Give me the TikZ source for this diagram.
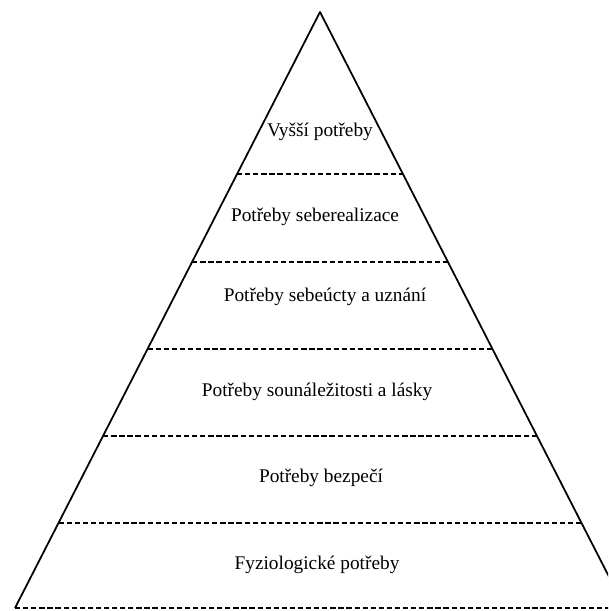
\documentclass[tikz,border=0pt]{standalone}
\usepackage{fontspec}
\setmainfont{Liberation Serif}
\usepackage{tikz}
\usetikzlibrary{calc, positioning}
\newcommand{\level}[1]
{
	\draw[levelline] ($ (apex)!#1!(baseL) $) -- ($ (apex)!#1!(baseR) $)
}
\begin{document}
\begin{tikzpicture}[
	side/.style={line width=1pt, line join=round},
	levelline/.style={line width=1pt, dash pattern=on 3pt off 1.6pt},
	every node/.append style={font=\fontsize{11}{13}\selectfont, inner sep=1pt}]

	\useasboundingbox (0,0) rectangle (12.16,12.22);
	\clip (0,0) rectangle (12.16,12.22);

	\coordinate (apex) at (6.4,11.98);
	\coordinate (baseL) at (0.3,0.06);
	\coordinate (baseR) at (12.5,0.06);

	\draw[side] (baseL) -- (apex) -- (baseR);
	\level{0.272};
	\level{0.419};
	\level{0.565};
	\level{0.711};
	\level{0.857};
	\level{1};

	\node (vyssi) at (6.4,9.58) {Vyšší potřeby};
	\node (sebereal) at (6.3,7.88) {Potřeby seberealizace};
	\node (uznani) at (6.5,6.28) {Potřeby sebeúcty a uznání};
	\node (laska) at (6.34,4.38) {Potřeby sounáležitosti a lásky};
	\node (bezpeci) at (6.42,2.66) {Potřeby bezpečí};
	\node (fyzio) at (6.34,0.92) {Fyziologické potřeby};
\end{tikzpicture}
\end{document}
